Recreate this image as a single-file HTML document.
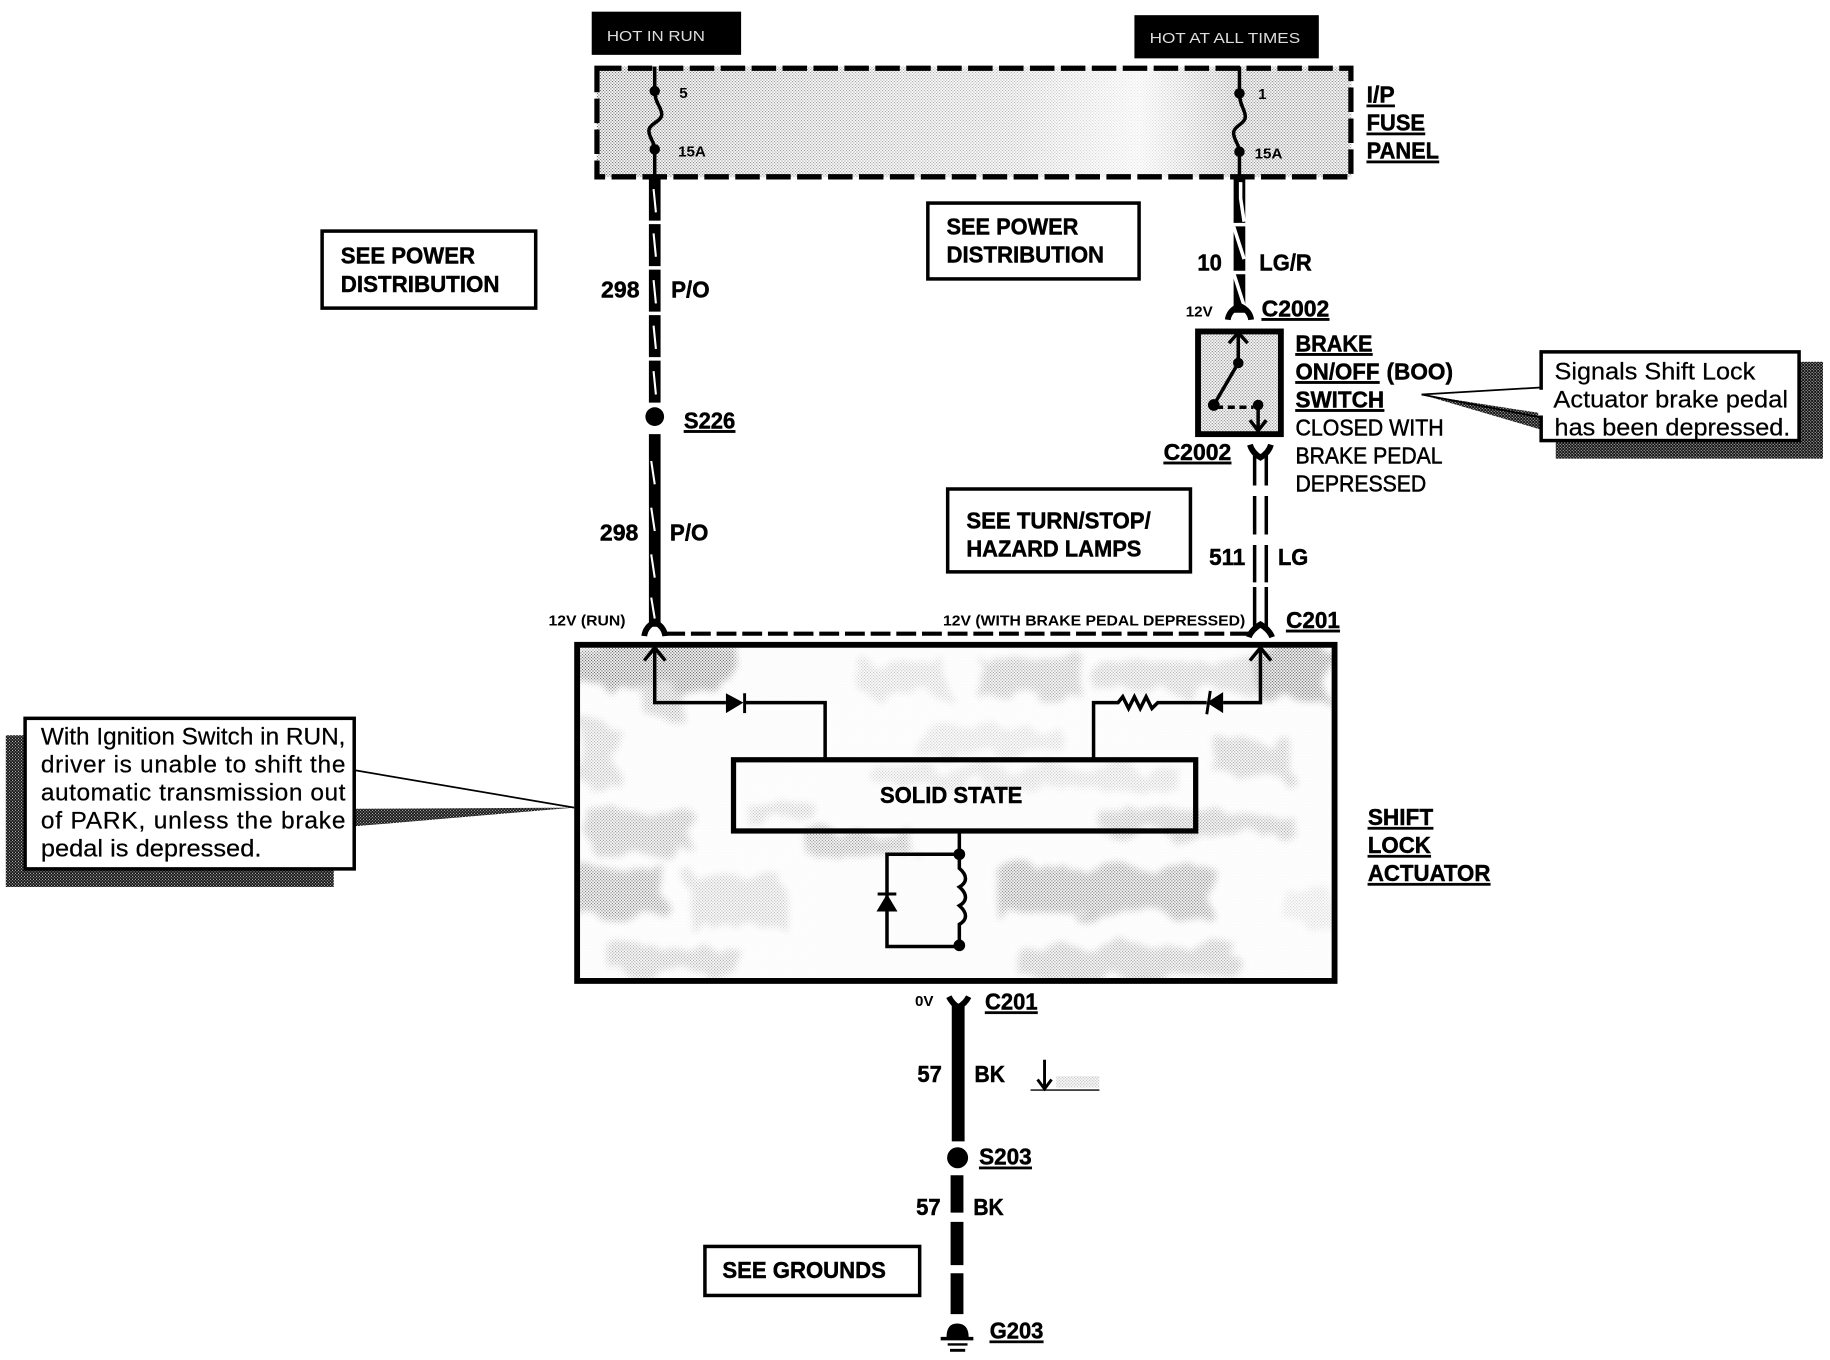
<!DOCTYPE html>
<html><head><meta charset="utf-8"><style>
html,body{margin:0;padding:0;background:#fff}
svg{display:block}
text{font-family:"Liberation Sans",sans-serif;fill:#000}
.b{font-weight:bold;font-size:20px;stroke:#000;stroke-width:.4px}
.u{text-decoration:underline}
.m{font-size:20px;stroke:#000;stroke-width:.45px}
.s{font-size:13px;font-weight:bold}
.n{font-size:21px;stroke:#000;stroke-width:.2px}
.l{fill:none;stroke:#000;stroke-linecap:butt}
</style></head><body>
<svg width="1830" height="1360" viewBox="0 0 1568 1165.300" preserveAspectRatio="none" xmlns="http://www.w3.org/2000/svg">
<defs>
<pattern id="dots" width="2.57" height="2.57" patternUnits="userSpaceOnUse"><rect width="1" height="1" fill="#000"/><rect x="1.285" y="1.285" width="1" height="1" fill="#000"/></pattern>
<pattern id="dark" width="2.57" height="2.57" patternUnits="userSpaceOnUse"><rect width="2.57" height="2.57" fill="#111"/><rect width=".9" height=".9" fill="#ccc"/><rect x="1.285" y="1.285" width=".9" height=".9" fill="#ccc"/></pattern>
<filter id="bl" x="-10%" y="-10%" width="120%" height="120%"><feTurbulence type="fractalNoise" baseFrequency=".035" numOctaves="3" seed="4" result="t"/><feDisplacementMap in="SourceGraphic" in2="t" scale="28" result="d"/><feGaussianBlur in="d" stdDeviation="3"/></filter>
<linearGradient id="fg" x1="0" x2="1" y1="0" y2="0">
<stop offset="0" stop-color="#fff" stop-opacity=".6"/><stop offset=".2" stop-color="#fff" stop-opacity=".45"/><stop offset=".55" stop-color="#fff" stop-opacity=".32"/><stop offset=".72" stop-color="#fff" stop-opacity=".1"/><stop offset=".85" stop-color="#fff" stop-opacity=".5"/><stop offset="1" stop-color="#fff" stop-opacity=".48"/>
</linearGradient>
<mask id="fm" maskUnits="userSpaceOnUse" x="511" y="57" width="647" height="95"><rect x="511" y="57" width="647" height="95" fill="url(#fg)"/></mask>
<mask id="am" maskUnits="userSpaceOnUse" x="494" y="552" width="650" height="288"><rect x="494" y="552" width="650" height="288" fill="#fff" fill-opacity=".03"/><g fill="#fff" filter="url(#bl)" opacity=".8">
<rect x="498" y="552" width="134" height="38" opacity=".85"/><rect x="550" y="585" width="30" height="25" opacity=".5"/>
<rect x="1080" y="556" width="60" height="44" opacity=".85"/><rect x="838" y="563" width="90" height="34" opacity=".5"/>
<rect x="740" y="565" width="70" height="30" opacity=".3"/><rect x="940" y="565" width="140" height="28" opacity=".4"/>
<rect x="852" y="743" width="188" height="42" opacity=".7"/><rect x="874" y="811" width="186" height="26" opacity=".5"/>
<rect x="498" y="743" width="72" height="42" opacity=".7"/><rect x="507" y="697" width="89" height="34" opacity=".55"/>
<rect x="588" y="751" width="84" height="43" opacity=".35"/><rect x="690" y="714" width="95" height="18" opacity=".6"/>
<rect x="525" y="811" width="107" height="23" opacity=".45"/><rect x="945" y="697" width="162" height="18" opacity=".5"/>
<rect x="1045" y="634" width="62" height="34" opacity=".45"/><rect x="750" y="657" width="260" height="17" opacity=".28"/>
<rect x="640" y="690" width="60" height="14" opacity=".35"/><rect x="498" y="620" width="30" height="50" opacity=".4"/>
<rect x="780" y="625" width="130" height="20" opacity=".25"/><rect x="1100" y="760" width="40" height="30" opacity=".2"/>
</g></mask>
<mask id="sm" maskUnits="userSpaceOnUse" x="1027" y="285" width="69" height="85"><rect x="1027" y="285" width="69" height="85" fill="#fff" fill-opacity=".5"/></mask>
</defs>
<rect width="1568" height="1166" fill="#fff"/>

<!-- top labels -->
<rect x="507" y="10" width="128" height="37" fill="#000"/>
<text x="520" y="35" font-size="13" style="fill:#ddd" textLength="84" lengthAdjust="spacingAndGlyphs">HOT IN RUN</text>
<rect x="972" y="13" width="158" height="37" fill="#000"/>
<text x="985" y="37" font-size="13" style="fill:#ddd" textLength="129" lengthAdjust="spacingAndGlyphs">HOT AT ALL TIMES</text>

<!-- fuse panel -->
<rect x="511" y="57" width="647" height="95" fill="url(#dots)" mask="url(#fm)"/>
<rect x="511.500" y="58.500" width="646" height="93" fill="none" stroke="#000" stroke-width="4.500" stroke-dasharray="21 5.500"/>
<path class="l" stroke-width="3" d="M561 57V78C561 88 567 92 567 98C567 104 556 106 556 112C556 118 561 122 561 128V154"/>
<circle cx="561" cy="78" r="4.500"/><circle cx="561" cy="128" r="4.500"/>
<path class="l" stroke-width="3" d="M1062 57V80C1062 90 1067 94 1067 100C1067 106 1057 108 1057 114C1057 120 1062 124 1062 130V154"/>
<circle cx="1062" cy="80" r="4.500"/><circle cx="1062" cy="130" r="4.500"/>
<text x="582" y="84" class="s">5</text><text x="581" y="134" class="s" font-size="12">15A</text>
<text x="1078" y="85" class="s">1</text><text x="1075" y="136" class="s">15A</text>
<text x="1171" y="88" class="b u" textLength="24" lengthAdjust="spacingAndGlyphs">I/P</text><text x="1171" y="112" class="b u" textLength="50" lengthAdjust="spacingAndGlyphs">FUSE</text><text x="1171" y="136" class="b u" textLength="62" lengthAdjust="spacingAndGlyphs">PANEL</text>

<!-- left wire -->
<path class="l" stroke-width="10" stroke-dasharray="36 3" d="M561 153V346"/>
<path class="l" stroke-width="10" d="M561 372V537"/>
<circle cx="561" cy="357" r="8"/>
<path d="M560 162l2 20M560 200l2 20M560 240l2 20M560 279l2 20M560 318l2 20M558 395l3 20M558 435l3 20M558 475l3 20M558 512l3 18" stroke="#fff" stroke-width="1.800" fill="none"/>
<path class="l" stroke-width="5" d="M552 545Q553 537 561 533Q569 537 570 545"/>
<!-- dashed link -->
<path class="l" stroke-width="3.500" stroke-dasharray="17 5" d="M570 543H1070"/>

<!-- right top wire -->
<path class="l" stroke-width="10" stroke-dasharray="38 3" d="M1062 153V268"/>
<path d="M1063 156V170L1066 190M1057 194L1066 222M1057 234L1066 262" stroke="#fff" stroke-width="3" fill="none"/>
<path class="l" stroke-width="5" d="M1052 274Q1053 266 1062 262Q1071 266 1072 274"/>

<!-- boxes -->
<rect x="276" y="198" width="183" height="66" fill="#fff" stroke="#000" stroke-width="3"/>
<text x="292" y="226" class="b" textLength="115" lengthAdjust="spacingAndGlyphs">SEE POWER</text>
<text x="292" y="250" class="b" textLength="136" lengthAdjust="spacingAndGlyphs">DISTRIBUTION</text>
<rect x="795" y="174" width="181" height="65" fill="#fff" stroke="#000" stroke-width="3"/>
<text x="811" y="201" class="b" textLength="113" lengthAdjust="spacingAndGlyphs">SEE POWER</text>
<text x="811" y="225" class="b" textLength="135" lengthAdjust="spacingAndGlyphs">DISTRIBUTION</text>
<rect x="812" y="419" width="208" height="71" fill="#fff" stroke="#000" stroke-width="3"/>
<text x="828" y="453" class="b" textLength="158" lengthAdjust="spacingAndGlyphs">SEE TURN/STOP/</text>
<text x="828" y="477" class="b" textLength="150" lengthAdjust="spacingAndGlyphs">HAZARD LAMPS</text>
<rect x="604" y="1068" width="184" height="42" fill="#fff" stroke="#000" stroke-width="3"/>
<text x="619" y="1095" class="b" textLength="140" lengthAdjust="spacingAndGlyphs">SEE GROUNDS</text>

<!-- wire labels -->
<text x="515" y="255" class="b" textLength="33" lengthAdjust="spacingAndGlyphs">298</text><text x="575" y="255" class="b" textLength="33" lengthAdjust="spacingAndGlyphs">P/O</text>
<text x="586" y="367" class="b u" textLength="44" lengthAdjust="spacingAndGlyphs">S226</text>
<text x="514" y="463" class="b" textLength="33" lengthAdjust="spacingAndGlyphs">298</text><text x="574" y="463" class="b" textLength="33" lengthAdjust="spacingAndGlyphs">P/O</text>
<text x="1026" y="232" class="b" textLength="21" lengthAdjust="spacingAndGlyphs">10</text><text x="1079" y="232" class="b" textLength="45" lengthAdjust="spacingAndGlyphs">LG/R</text>
<text x="1016" y="271" class="s">12V</text><text x="1081" y="271" class="b u" textLength="58" lengthAdjust="spacingAndGlyphs">C2002</text>
<text x="1110" y="301" class="b u" textLength="66" lengthAdjust="spacingAndGlyphs">BRAKE</text>
<text x="1110" y="325" class="b u" textLength="72" lengthAdjust="spacingAndGlyphs">ON/OFF</text><text x="1188" y="325" class="b" textLength="57" lengthAdjust="spacingAndGlyphs">(BOO)</text>
<text x="1110" y="349" class="b u" textLength="76" lengthAdjust="spacingAndGlyphs">SWITCH</text>
<text x="1110" y="373" class="m" textLength="127" lengthAdjust="spacingAndGlyphs">CLOSED WITH</text>
<text x="1110" y="397" class="m" textLength="126" lengthAdjust="spacingAndGlyphs">BRAKE PEDAL</text>
<text x="1110" y="421" class="m" textLength="112" lengthAdjust="spacingAndGlyphs">DEPRESSED</text>
<text x="997" y="394" class="b u" textLength="58" lengthAdjust="spacingAndGlyphs">C2002</text>
<text x="1036" y="484" class="b" textLength="31" lengthAdjust="spacingAndGlyphs">511</text><text x="1095" y="484" class="b" textLength="26" lengthAdjust="spacingAndGlyphs">LG</text>
<text x="1102" y="538" class="b u" textLength="46" lengthAdjust="spacingAndGlyphs">C201</text>
<text x="470" y="536" class="s" textLength="66" lengthAdjust="spacingAndGlyphs">12V (RUN)</text>
<text x="808" y="536" class="s" textLength="259" lengthAdjust="spacingAndGlyphs">12V (WITH BRAKE PEDAL DEPRESSED)</text>

<!-- switch -->
<rect x="1027" y="285" width="69" height="85" fill="url(#dots)" mask="url(#sm)"/>
<rect x="1026.500" y="284" width="71" height="88" fill="none" stroke="#000" stroke-width="5"/>
<path class="l" stroke-width="3" d="M1061 286V311L1040 347"/>
<path class="l" stroke-width="3" d="M1053 294L1061 285L1069 294"/>
<circle cx="1061" cy="311" r="4.500"/><circle cx="1040" cy="347" r="5"/><circle cx="1078" cy="347" r="4.500"/>
<path class="l" stroke-width="3" stroke-dasharray="6 4" d="M1042 349H1074"/>
<path class="l" stroke-width="3" d="M1078 347V369M1071 360L1078 369L1085 360"/>
<!-- lower brake wire -->
<path class="l" stroke-width="5" d="M1071 381Q1073 388 1080 392Q1087 388 1089 381"/>
<path class="l" stroke-width="3" d="M1075 390V416M1085 390V416M1075 425V458M1085 425V458M1075 467V499M1085 467V499M1075 503V538M1085 503V538"/>
<path class="l" stroke-width="5" d="M1070 546Q1072 540 1080 535Q1088 540 1090 546"/>

<!-- actuator -->
<rect x="494" y="552" width="650" height="288" fill="url(#dots)" mask="url(#am)"/>
<rect x="494.500" y="552.500" width="649" height="288" fill="none" stroke="#000" stroke-width="5"/>
<path class="l" stroke-width="3" d="M561 556V602H622M638 602H707V650"/>
<path class="l" stroke-width="3" d="M552 566L561 555L570 566"/>
<polygon points="622,594 622,611 637,602"/><path d="M638 594V611" stroke="#000" stroke-width="2.500"/>
<path class="l" stroke-width="3" d="M937 650V602H958L962 597L967 607L972 597L977 607L982 597L987 607L992 602H1034M1048 602H1080V556"/>
<path class="l" stroke-width="3" d="M1071 566L1080 555L1089 566"/>
<polygon points="1034,602 1048,593 1048,611"/><path d="M1037 592L1034 612" stroke="#000" stroke-width="2.500"/>
<rect x="628.500" y="651" width="396" height="61" fill="none" stroke="#000" stroke-width="4.500"/>
<text x="754" y="688" class="b" textLength="122" lengthAdjust="spacingAndGlyphs">SOLID STATE</text>
<path class="l" stroke-width="3" d="M822 713V744C829 750 829 756 822 760C829 766 829 772 822 776C829 782 829 788 822 792V811"/>
<circle cx="822" cy="732" r="5"/><circle cx="822" cy="810" r="5"/>
<path class="l" stroke-width="3" d="M822 732H760V811H822"/>
<polygon points="760,766 751,781 769,781"/><path d="M752 766H768" stroke="#000" stroke-width="2.500"/>
<text x="1172" y="707" class="b u" textLength="56" lengthAdjust="spacingAndGlyphs">SHIFT</text><text x="1172" y="731" class="b u" textLength="54" lengthAdjust="spacingAndGlyphs">LOCK</text><text x="1172" y="755" class="b u" textLength="105" lengthAdjust="spacingAndGlyphs">ACTUATOR</text>

<!-- ground wire -->
<path class="l" stroke-width="5" stroke-linecap="round" d="M813 854Q816 860 821 863Q827 860 830 854"/>
<path class="l" stroke-width="11" d="M821 860V978"/>
<circle cx="820.500" cy="992" r="9"/>
<path class="l" stroke-width="11" d="M820 1007V1039M820 1047V1084M820 1091V1126"/>
<text x="784" y="862" class="s">0V</text><text x="844" y="865" class="b u" textLength="45" lengthAdjust="spacingAndGlyphs">C201</text>
<text x="786" y="927" class="b" textLength="21" lengthAdjust="spacingAndGlyphs">57</text><text x="835" y="927" class="b" textLength="26" lengthAdjust="spacingAndGlyphs">BK</text>
<text x="839" y="998" class="b u" textLength="45" lengthAdjust="spacingAndGlyphs">S203</text>
<text x="785" y="1041" class="b" textLength="21" lengthAdjust="spacingAndGlyphs">57</text><text x="834" y="1041" class="b" textLength="26" lengthAdjust="spacingAndGlyphs">BK</text>
<text x="848" y="1147" class="b u" textLength="46" lengthAdjust="spacingAndGlyphs">G203</text>
<path d="M811 1146Q811 1134 820 1134Q830 1134 830 1146Z"/>
<path d="M806 1147H834" stroke="#000" stroke-width="3"/><path d="M812 1152H829" stroke="#000" stroke-width="2"/><path d="M814 1157H827" stroke="#000" stroke-width="2.500"/>
<rect x="905" y="922" width="37" height="10" fill="url(#dots)" opacity=".3"/>
<path class="l" stroke-width="2.500" d="M895 908V932M889 925L895 933L901 925"/>
<path d="M883 934H942" stroke="#000" stroke-width="1.200"/>

<!-- right callout -->
<rect x="1333" y="310" width="229" height="83" fill="url(#dark)"/>
<polygon points="1218,338 1320,352 1320,368" fill="url(#dark)"/>
<polygon points="1218,338 1320,332 1320,354" fill="#fff"/>
<path d="M1218 338L1320 332M1218 338L1322 358" stroke="#000" stroke-width="1.500" fill="none"/>
<rect x="1320.500" y="301.500" width="221" height="76" fill="#fff" stroke="#000" stroke-width="3"/>
<rect x="1318" y="334" width="6" height="22" fill="#fff"/>
<text x="1332" y="325" class="n" textLength="172" lengthAdjust="spacingAndGlyphs">Signals Shift Lock</text>
<text x="1331" y="349" class="n" textLength="201" lengthAdjust="spacingAndGlyphs">Actuator brake pedal</text>
<text x="1332" y="373" class="n" textLength="202" lengthAdjust="spacingAndGlyphs">has been depressed.</text>

<!-- left callout -->
<rect x="5" y="630" width="281" height="130" fill="url(#dark)"/>
<polygon points="304,693 492,692 304,708" fill="url(#dark)"/>
<path d="M304 660L492 692" stroke="#000" stroke-width="1.500"/>
<rect x="21.500" y="615.500" width="282" height="129" fill="#fff" stroke="#000" stroke-width="3"/>
<text x="35" y="638" class="n" textLength="261" lengthAdjust="spacingAndGlyphs">With Ignition Switch in RUN,</text>
<text x="35" y="662" class="n" textLength="261" lengthAdjust="spacing">driver is unable to shift the</text>
<text x="35" y="686" class="n" textLength="261" lengthAdjust="spacing">automatic transmission out</text>
<text x="35" y="710" class="n" textLength="261" lengthAdjust="spacing">of PARK, unless the brake</text>
<text x="35" y="734" class="n" textLength="189" lengthAdjust="spacingAndGlyphs">pedal is depressed.</text>
</svg>
</body></html>
